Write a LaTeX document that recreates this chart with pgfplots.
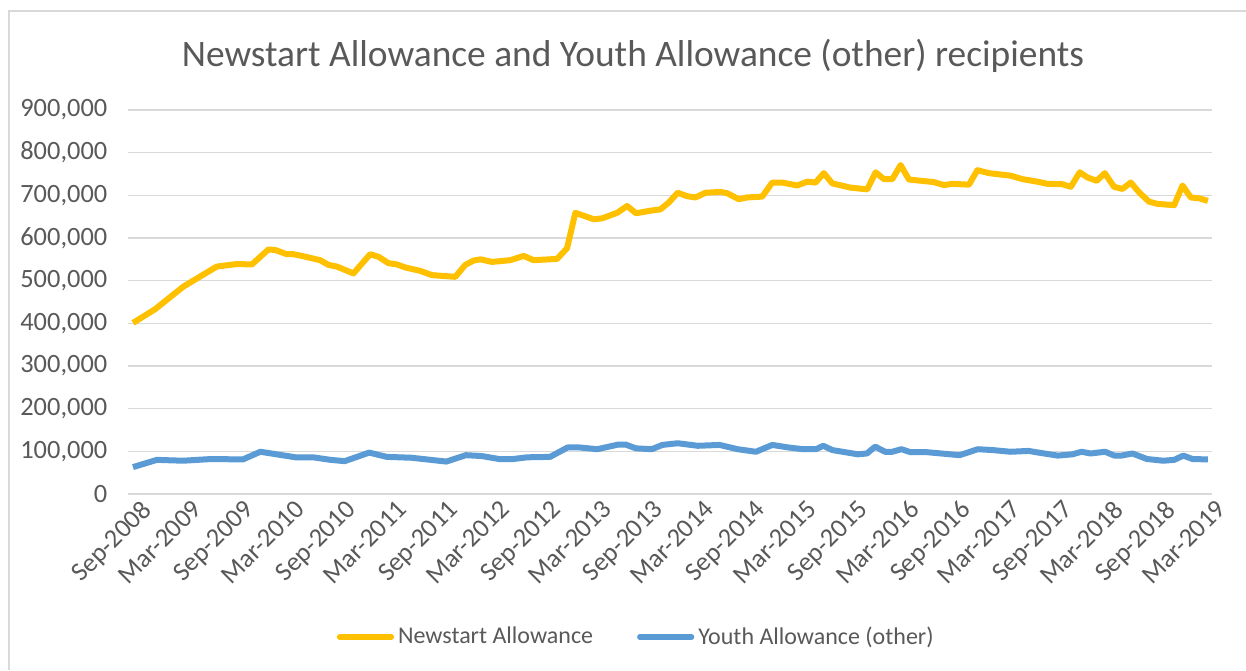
\documentclass[border=0pt]{standalone}
\usepackage{pgfplots}
\pgfplotsset{compat=1.18}
\usepackage{fontspec}
\setmainfont{Carlito}
\definecolor{nsyellow}{HTML}{FFC000}
\definecolor{yablue}{HTML}{5B9BD5}
\definecolor{txtgrey}{HTML}{595959}
\definecolor{gridgrey}{HTML}{D9D9D9}
\begin{document}
\begin{tikzpicture}[x=1pt,y=1pt]
\useasboundingbox (0,0) rectangle (623,335);
\fill[white] (0,0) rectangle (623,335);
\draw[gridgrey, line width=0.8pt] (4.5,0) -- (4.5,329.5) -- (623,329.5);
\node[txtgrey, font=\fontsize{18.7}{22}\selectfont] at (316.5,307) {Newstart Allowance and Youth Allowance (other) recipients};
\begin{axis}[
  at={(64.15pt,88pt)}, anchor=south west,
  width=541.7pt, height=192pt, scale only axis,
  xmin=-0.55, xmax=126.45, ymin=0, ymax=900000,
  axis line style={draw=none},
  ytick={0,100000,...,900000},
  xtick={0,6,...,126},
  xticklabels={Sep-2008,Mar-2009,Sep-2009,Mar-2010,Sep-2010,Mar-2011,Sep-2011,Mar-2012,Sep-2012,Mar-2013,Sep-2013,Mar-2014,Sep-2014,Mar-2015,Sep-2015,Mar-2016,Sep-2016,Mar-2017,Sep-2017,Mar-2018,Sep-2018,Mar-2019},
  major tick length=0pt,
  ymajorgrids, grid style={gridgrey, line width=0.8pt},
  scaled y ticks=false,
  yticklabel style={/pgf/number format/fixed, /pgf/number format/1000 sep={,}, /pgf/number format/assume math mode=true, xshift=-7pt},
  ticklabel style={font=\fontsize{13.2}{15}\selectfont, text=txtgrey},
  xticklabel style={rotate=45, anchor=north east, inner sep=1pt, xshift=2pt, yshift=-3pt},
  legend style={at={(0.4698,-0.3724)}, anchor=center, draw=none, fill=none,
    font=\fontsize{12}{14}\selectfont, text=txtgrey, legend columns=2,
    /tikz/every even column/.append style={column sep=20pt},
    inner sep=0pt, row sep=0pt},
  legend cell align=left,
  legend image code/.code={\draw[#1, line width=2.6pt, line cap=round] (0pt,0pt) -- (26pt,0pt);},
  clip=false,
]
\addplot[nsyellow, line width=3pt, line join=round, y filter/.expression={y*1000}] coordinates {
(0,401)(2.58,433)(5.90,486)(9.82,533)(12.17,539)(13.93,538)(15.87,573)(16.66,572)
(18.03,562)(18.81,562)(19.79,558)(21.94,548)(22.91,537)(23.90,533)(25.84,517)
(27.80,562)(28.78,556)(29.95,541)(30.94,538)(31.91,531)(33.67,523)(35.04,513)
(37.78,509)(38.95,537)(39.92,547)(40.71,550)(42.08,544)(44.23,548)(45.79,558)
(46.96,548)(49.71,551)(50.88,576)(51.85,659)(54.00,644)(54.99,646)(56.75,659)
(57.92,675)(58.97,658)(60.65,664)(61.82,667)(62.80,683)(63.85,706)(64.96,698)
(65.93,695)(67.10,706)(68.86,708)(69.65,705)(71.01,691)(71.99,695)(73.76,697)
(74.93,730)(76.10,730)(77.86,723)(79.04,732)(80.01,730)(80.98,752)(81.97,728)
(84.12,718)(86.07,714)(87.05,754)(88.02,738)(89.01,738)(89.98,771)(90.96,737)
(93.89,731)(95.06,724)(96.05,727)(97.99,725)(98.98,759)(100.34,752)(102.89,746)
(104.26,738)(106.02,732)(107.19,727)(108.95,726)(109.93,720)(110.98,754)(111.88,742)
(112.97,734)(113.91,752)(115.00,720)(115.99,715)(116.96,730)(117.94,707)(119.11,685)
(120.10,680)(122.05,677)(123.03,723)(124.00,695)(124.98,693)(126,687)
};
\addlegendentry{Newstart Allowance}
\addplot[yablue, line width=3pt, line join=round, y filter/.expression={y*1000}] coordinates {
(0,63)(2.79,80)(5.88,78)(9.17,82)(12.88,81)(14.93,99)(19.05,86)(21.11,86)
(23.17,80)(24.81,77)(27.69,97)(29.75,87)(32.63,85)(36.74,76)(39.01,91)(40.86,89)
(42.91,82)(44.56,82)(46.21,86)(48.89,87)(50.94,109)(52.38,109)(54.43,105)(56.91,116)
(57.73,116)(58.96,107)(60.82,105)(62.05,115)(63.86,119)(66.20,113)(68.76,115)
(70.88,105)(73.02,99)(74.94,115)(76.85,109)(78.57,105)(80.06,105)(80.91,113)
(81.98,103)(84.96,93)(86.03,95)(87.00,111)(88.16,99)(89.01,99)(90.07,105)(91.14,98)
(93.07,98)(96.90,91)(99.04,105)(100.74,103)(102.87,99)(105.00,101)(105.85,98)
(108.41,90)(110.12,93)(111.19,99)(112.25,95)(113.96,99)(115.03,90)(115.87,90)
(117.15,95)(118.86,82)(120.77,78)(122.05,80)(123.12,90)(124.19,82)(126,81)
};
\addlegendentry{Youth Allowance (other)}
\end{axis}
\end{tikzpicture}
\end{document}
